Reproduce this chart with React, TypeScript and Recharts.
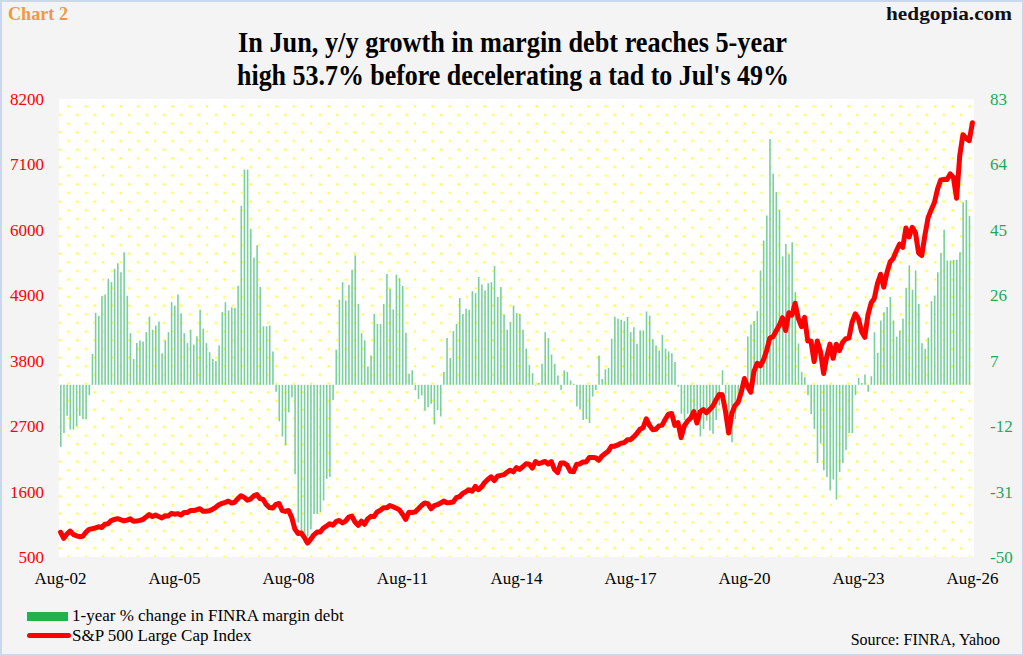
import { Bar, CartesianGrid, ComposedChart, Line, XAxis, YAxis } from "recharts";

const SERIF = '"Liberation Serif", "Times New Roman", serif';

// monthly, Aug-02 .. Jul-26 (1-year % change in FINRA margin debt)
const MARGIN_YOY = [
  -18, -14, -9, -13, -13,
  -12, -9, -10, -10, -3, 9, 20.9, 20, 25.7, 26.2, 30.8, 29.8,
  33.7, 35.3, 32.7, 38.5, 25.9, 15, 7.5, 12.2, 12.9, 12.6, 15.3, 19.8,
  16, 17.2, 18.4, 9.2, 12.9, 15.3, 24, 23, 26.2, 20.8, 15, 12.1,
  16, 11.7, 14.1, 21.8, 16.3, 12.1, 9.5, 7.5, 6.9, 11.4, 21.1, 24,
  21.6, 22.5, 22.4, 28.8, 52, 62.5, 62.5, 45.3, 37, 40.5, 28.4, 17,
  17, 17.2, 9.7, -2, -10.6, -15, -17.6, -8, -3.6, -26, -40, -43,
  -46, -44, -42, -37.5, -37.5, -37, -33.6, -27.3, -26.8, -4.4, 10.2, 24.7,
  29.8, 24.5, 29, 33.4, 37.6, 23.5, 15, 12.9, 5.3, 8.5, 20.6, 17.7,
  17.7, 23.5, 32.2, 27.9, 21.9, 32, 31, 28.7, 15.1, 3.2, 4.2, -1.6,
  -4.1, -3.1, -7.5, -6.5, -5.5, -11.5, -7.3, -9.2, 3.7, 13.6, 7.8, 15.6,
  17.7, 25.2, 20.6, 22.1, 21.8, 27.2, 26.6, 31.3, 29.1, 27.4, 29.5, 29.8,
  34.5, 25.5, 28.4, 20.4, 16, 18.2, 23, 20.8, 20.6, 16, 10.5, 5.8,
  3.4, -0.2, 0.5, 6.1, 15.3, 13.6, 8.8, 6.1, 2.7, -1.5, 4.2, 3.7,
  1.3, 0.3, -6.3, -7, -10.2, -9.9, -11.1, -3.4, -1.5, 8.5, 1.7, 4.5,
  4.9, 13.4, 19.8, 19.2, 18.9, 18.5, 19.7, 15.3, 16.7, 11.9, 15.8, 15.8,
  21.3, 20.1, 13.2, 11.4, 10, 14.5, 10.5, 9.7, 9.2, 6.6, -0.5, -8.4,
  -10.2, -8.4, -8.4, -9.4, -10.8, -15, -12.8, -10.4, -13.3, -14.2, -10.2, -6,
  4.2, -2.6, -13.7, -16.7, -9.9, -3.6, -0.7, 0.5, 14, 17.5, 18.5, 21.4,
  33.2, 41.9, 49.2, 71.4, 61.3, 56, 50.8, 37.3, 40.9, 37.9, 41.4, 26.9,
  12, 3.7, 2.2, -3, -8.5, -12.8, -22.7, -17, -24.8, -26.8, -30.7, -27.5,
  -33.3, -25.3, -22.7, -18.9, -14, -14, -3, 2, 0.5, 3, -2, 2.5,
  15.3, 9.3, 18.7, 21.1, 22.6, 25.5, 18.7, 14, 15.8, 19.2, 28.2, 34.7,
  27.6, 33.2, 23.5, 12.1, 10.5, 13.7, 24.3, 25.9, 32.7, 38.3, 45, 36.1,
  36.1, 36.3, 36.3, 38.5, 53, 53.7, 49,
];

// monthly, Aug-02 .. Aug-26 (S&P 500 month-end)
const SPX = [
  916, 815, 886, 936, 880,
  856, 841, 848, 917, 964, 975, 990, 1008, 996, 1051, 1058, 1112,
  1131, 1145, 1126, 1107, 1121, 1141, 1102, 1104, 1115, 1130, 1174, 1212,
  1181, 1204, 1181, 1157, 1192, 1191, 1234, 1220, 1229, 1207, 1249, 1248,
  1280, 1281, 1295, 1311, 1270, 1270, 1277, 1304, 1336, 1378, 1401, 1418,
  1438, 1407, 1421, 1482, 1531, 1503, 1455, 1474, 1527, 1549, 1481, 1468,
  1379, 1331, 1323, 1386, 1400, 1280, 1267, 1283, 1166, 969, 896, 903,
  826, 735, 798, 873, 919, 919, 987, 1021, 1057, 1036, 1096, 1115,
  1074, 1104, 1169, 1187, 1089, 1031, 1102, 1049, 1141, 1183, 1181, 1258,
  1286, 1327, 1326, 1364, 1345, 1321, 1292, 1219, 1131, 1253, 1247, 1258,
  1312, 1366, 1408, 1398, 1310, 1362, 1379, 1407, 1441, 1412, 1416, 1426,
  1498, 1515, 1569, 1598, 1631, 1606, 1686, 1633, 1682, 1757, 1806, 1848,
  1783, 1859, 1872, 1884, 1924, 1960, 1931, 2003, 1972, 2018, 2068, 2059,
  1995, 2105, 2068, 2086, 2107, 2063, 2104, 1972, 1920, 2079, 2080, 2044,
  1940, 1932, 2060, 2065, 2097, 2099, 2174, 2171, 2168, 2126, 2199, 2239,
  2279, 2364, 2363, 2384, 2412, 2423, 2470, 2472, 2519, 2575, 2648, 2674,
  2824, 2714, 2641, 2648, 2705, 2718, 2816, 2902, 2914, 2712, 2760, 2507,
  2704, 2784, 2834, 2946, 2752, 2942, 2980, 2926, 2977, 3038, 3141, 3231,
  3226, 2954, 2585, 2912, 3044, 3100, 3271, 3500, 3363, 3270, 3622, 3756,
  3714, 3811, 3973, 4181, 4204, 4298, 4395, 4523, 4308, 4605, 4567, 4766,
  4516, 4374, 4530, 4132, 4132, 3785, 4130, 3955, 3586, 3872, 4080, 3840,
  4077, 3970, 4109, 4169, 4180, 4450, 4589, 4508, 4288, 4194, 4568, 4770,
  4846, 5096, 5254, 5036, 5278, 5460, 5522, 5648, 5762, 5705, 6032, 5882,
  6041, 5955, 5612, 5569, 5912, 6205, 6339, 6460, 6688, 6840, 6849, 6845,
  6940, 6880, 6530, 7250, 7600, 7540, 7500, 7800,
];

const X_TICK_LABELS = ["Aug-02", "Aug-05", "Aug-08", "Aug-11", "Aug-14", "Aug-17", "Aug-20", "Aug-23", "Aug-26"];
const LEFT_TICKS = [500, 1600, 2700, 3800, 4900, 6000, 7100, 8200];
const RIGHT_TICKS = [-50, -31, -12, 7, 26, 45, 64, 83];

const rows = SPX.map((spx, i) => ({ i, spx, yoy: MARGIN_YOY[i] ?? null }));

const GREEN_TEXT = "#1ea95a";

export default function App() {
  return (
    <div
      style={{
        position: "absolute",
        left: 0,
        top: 0,
        width: 1024,
        height: 656,
        background: "#f4f4f4",
        fontFamily: SERIF,
        overflow: "hidden",
      }}
    >
      <ComposedChart
        width={1024}
        height={656}
        data={rows}
        margin={{ top: 99, right: 0, bottom: 69, left: 0 }}
        barCategoryGap={0}
      >
        <defs>
          {/* staggered yellow dot fill of the plot area */}
          <pattern
            id="dot-grid"
            patternUnits="userSpaceOnUse"
            x={0}
            y={0}
            width={17.33}
            height={17.33}
          >
            <rect x={0} y={0} width={17.33} height={17.33} fill="#ffffff" />
            <rect x={7} y={10} width={2} height={2} fill="#ffff00" />
            <rect x={15.67} y={1.33} width={2} height={2} fill="#ffff00" />
          </pattern>
        </defs>
        <CartesianGrid horizontal={false} vertical={false} fill="url(#dot-grid)" />
        <XAxis
          dataKey="i"
          type="category"
          interval={35}
          axisLine={false}
          tickLine={false}
          tickMargin={9}
          height={30}
          tick={{ fontSize: 17, fill: "#000000", fontFamily: SERIF }}
          tickFormatter={(value: number) => X_TICK_LABELS[value / 36] ?? ""}
        />
        <YAxis
          yAxisId="spx"
          orientation="left"
          width={59}
          domain={[500, 8200]}
          ticks={LEFT_TICKS}
          interval={0}
          axisLine={false}
          tickLine={false}
          tickMargin={9}
          tick={{ fontSize: 17, fill: "#ff0000", fontFamily: SERIF }}
        />
        <YAxis
          yAxisId="pct"
          orientation="right"
          width={50}
          domain={[-50, 83]}
          ticks={RIGHT_TICKS}
          interval={0}
          axisLine={false}
          tickLine={false}
          tickMargin={10}
          tick={{ fontSize: 17, fill: GREEN_TEXT, fontFamily: SERIF }}
        />
        <Bar
          yAxisId="pct"
          dataKey="yoy"
          fill="#79d09e"
          barSize={1.6}
          isAnimationActive={false}
        />
        <Line
          yAxisId="spx"
          type="linear"
          dataKey="spx"
          stroke="#ff0000"
          strokeWidth={5}
          strokeLinejoin="round"
          strokeLinecap="round"
          dot={false}
          activeDot={false}
          isAnimationActive={false}
        />
      </ComposedChart>

      <svg
        width={1024}
        height={100}
        style={{ position: "absolute", left: 0, top: 0, pointerEvents: "none" }}
      >
        <text
          x={8}
          y={20}
          fill="#f8963f"
          fontFamily={SERIF}
          fontWeight="bold"
          fontSize={19}
          textLength={60}
          lengthAdjust="spacingAndGlyphs"
        >
          Chart 2
        </text>
        <text
          x={886}
          y={20}
          fill="#111111"
          fontFamily={SERIF}
          fontWeight="bold"
          fontSize={19}
          textLength={126}
          lengthAdjust="spacingAndGlyphs"
        >
          hedgopia.com
        </text>
        <text
          x={238}
          y={52}
          fill="#000000"
          fontFamily={SERIF}
          fontWeight="bold"
          fontSize={29}
          textLength={549}
          lengthAdjust="spacingAndGlyphs"
        >
          In Jun, y/y growth in margin debt reaches 5-year
        </text>
        <text
          x={237}
          y={85}
          fill="#000000"
          fontFamily={SERIF}
          fontWeight="bold"
          fontSize={29}
          textLength={552}
          lengthAdjust="spacingAndGlyphs"
        >
          high 53.7% before decelerating a tad to Jul's 49%
        </text>
      </svg>

      <div style={{ position: "absolute", left: 27, top: 612, width: 41, height: 9, background: "#22b14c" }} />
      <div style={{ position: "absolute", left: 72, top: 606, fontSize: 17, lineHeight: "20px", color: "#000" }}>
        1-year % change in FINRA margin debt
      </div>
      <div
        style={{ position: "absolute", left: 27, top: 633, width: 44, height: 5, background: "#ff0000", borderRadius: 3 }}
      />
      <div style={{ position: "absolute", left: 72, top: 626, fontSize: 17, lineHeight: "20px", color: "#000" }}>
        S&amp;P 500 Large Cap Index
      </div>
      <div style={{ position: "absolute", right: 24, top: 631, fontSize: 16, lineHeight: "18px", color: "#000" }}>
        Source: FINRA, Yahoo
      </div>
      <div
        style={{
          position: "absolute",
          left: 0,
          top: 0,
          width: 1024,
          height: 656,
          boxSizing: "border-box",
          border: "2px solid #cad8ee",
          pointerEvents: "none",
        }}
      />
    </div>
  );
}
